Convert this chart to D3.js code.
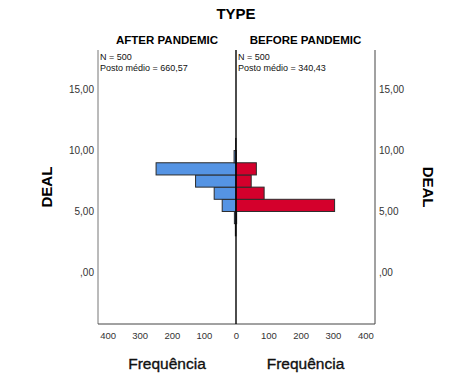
<!DOCTYPE html>
<html>
<head>
<meta charset="utf-8">
<script src="https://cdn.jsdelivr.net/npm/d3@7"></script>
<style>
  body { margin: 0; background: #fff; }
  svg text { font-family: "Liberation Sans", Arial, sans-serif; }
</style>
</head>
<body>
<div id="chart"></div>
<script>
// Population pyramid: DEAL by TYPE
const binStarts = [3, 4, 5, 6, 7, 8, 9, 10];
const afterCounts = [2, 5, 43, 68, 126, 249, 6, 1];
const beforeCounts = [0, 2, 305, 87, 47, 63, 1, 0];
const groups = ['AFTER PANDEMIC', 'BEFORE PANDEMIC'];
const groupStats = ['Posto médio = 660,57', 'Posto médio = 340,43'];
const groupN = [500, 500];
const yTicks = [0, 5, 10, 15];
const xTicks = [0, 100, 200, 300, 400];

const width = 474, height = 375;
const plotLeft = 98, plotMid = 236, plotRight = 375, plotTop = 50, plotBottom = 324;

const svg = d3.select('#chart').append('svg')
    .attr('width', width)
    .attr('height', height);

const y = d3.scaleLinear().domain([-4.24, 18.26]).range([plotBottom, plotTop]);
const xLeft = d3.scaleLinear().domain([0, 430]).range([plotMid, plotLeft]);
const xRight = d3.scaleLinear().domain([0, 430]).range([plotMid, plotRight]);

const fmt = d => d === 0 ? ',00' : d3.format('.2f')(d).replace('.', ',');

// bars
const rows = binStarts.map((b, i) => ({ b, after: afterCounts[i], before: beforeCounts[i] }));

svg.append('g').selectAll('rect')
    .data(rows.filter(d => d.after > 0))
    .enter().append('rect')
    .attr('x', d => xLeft(d.after))
    .attr('y', d => y(d.b + 1))
    .attr('width', d => plotMid - xLeft(d.after))
    .attr('height', d => y(d.b) - y(d.b + 1))
    .attr('fill', '#5594e4')
    .attr('stroke', '#2b2b2b')
    .attr('stroke-width', 1);

svg.append('g').selectAll('rect')
    .data(rows.filter(d => d.before > 0))
    .enter().append('rect')
    .attr('x', plotMid)
    .attr('y', d => y(d.b + 1))
    .attr('width', d => xRight(d.before) - plotMid)
    .attr('height', d => y(d.b) - y(d.b + 1))
    .attr('fill', '#d4002c')
    .attr('stroke', '#2b2b2b')
    .attr('stroke-width', 1);

// frame lines
const frame = svg.append('g').attr('fill', 'none');
frame.append('line').attr('x1', plotLeft).attr('x2', plotLeft).attr('y1', plotTop).attr('y2', plotBottom)
    .attr('stroke', '#777');
frame.append('line').attr('x1', plotRight).attr('x2', plotRight).attr('y1', plotTop).attr('y2', plotBottom)
    .attr('stroke', '#444');
frame.append('line').attr('x1', plotLeft).attr('x2', plotRight).attr('y1', plotBottom).attr('y2', plotBottom)
    .attr('stroke', '#444');
frame.append('line').attr('x1', plotMid).attr('x2', plotMid).attr('y1', plotTop).attr('y2', plotBottom)
    .attr('stroke', '#000').attr('stroke-width', 1.4);

// y axes
const yAxisL = svg.append('g')
    .attr('transform', `translate(${plotLeft},0)`)
    .call(d3.axisLeft(y).tickValues(yTicks).tickFormat(fmt).tickSize(0).tickPadding(4));
const yAxisR = svg.append('g')
    .attr('transform', `translate(${plotRight},0)`)
    .call(d3.axisRight(y).tickValues(yTicks).tickFormat(fmt).tickSize(0).tickPadding(4));

// x axes
const xAxisL = svg.append('g')
    .attr('transform', `translate(0,${plotBottom})`)
    .call(d3.axisBottom(xLeft).tickValues(xTicks.slice(1)).tickSize(0).tickPadding(8));
const xAxisR = svg.append('g')
    .attr('transform', `translate(0,${plotBottom})`)
    .call(d3.axisBottom(xRight).tickValues(xTicks).tickSize(0).tickPadding(8));

[yAxisL, yAxisR].forEach(a => {
    a.select('.domain').remove();
    a.selectAll('text')
        .style('font-family', '"Liberation Sans", Arial, sans-serif')
        .style('font-size', '10px')
        .attr('fill', '#333');
});
[xAxisL, xAxisR].forEach(a => {
    a.select('.domain').remove();
    a.selectAll('text')
        .style('font-family', '"Liberation Sans", Arial, sans-serif')
        .style('font-size', '9.5px')
        .attr('fill', '#333');
});

// titles
svg.append('text')
    .attr('x', plotMid).attr('y', 19)
    .attr('text-anchor', 'middle')
    .style('font-size', '15px').style('font-weight', 'bold')
    .text('TYPE');

groups.forEach((g, i) => {
    const cx = i === 0 ? (plotLeft + plotMid) / 2 : (plotMid + plotRight) / 2;
    const x0 = i === 0 ? plotLeft : plotMid;
    svg.append('text')
        .attr('x', cx).attr('y', 44)
        .attr('text-anchor', 'middle')
        .style('font-size', '11.5px').style('font-weight', 'bold')
        .text(g);
    svg.append('text')
        .attr('x', x0 + 2).attr('y', 60)
        .style('font-size', '9px').attr('fill', '#111')
        .text('N = ' + groupN[i]);
    svg.append('text')
        .attr('x', x0 + 2).attr('y', 71)
        .style('font-size', '9px').attr('fill', '#111')
        .text(groupStats[i]);
    svg.append('text')
        .attr('x', cx).attr('y', 369)
        .attr('text-anchor', 'middle')
        .style('font-size', '15.5px').attr('fill', '#111')
        .attr('stroke', '#111').attr('stroke-width', 0.35)
        .text('Frequência');
});

// DEAL labels
svg.append('text')
    .attr('transform', `translate(52,${y(7.0)}) rotate(-90)`)
    .attr('text-anchor', 'middle')
    .style('font-size', '15px').style('font-weight', 'bold')
    .text('DEAL');
svg.append('text')
    .attr('transform', `translate(423,${y(7.0)}) rotate(90)`)
    .attr('text-anchor', 'middle')
    .style('font-size', '15px').style('font-weight', 'bold')
    .text('DEAL');
</script>
</body>
</html>
